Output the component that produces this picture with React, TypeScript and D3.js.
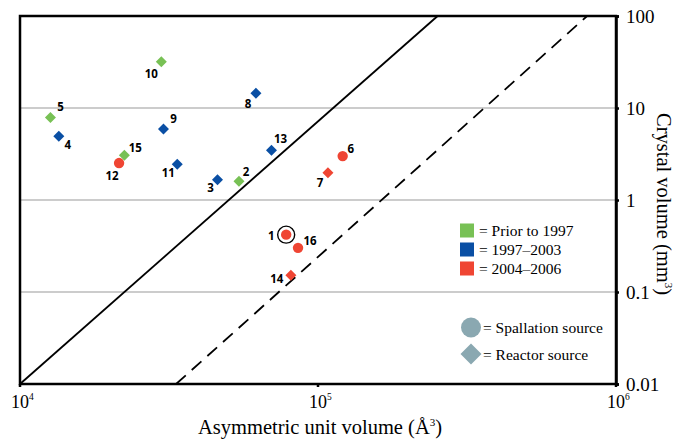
import React, { useEffect, useRef } from 'react';
import * as d3 from 'd3';

// crystal data
const ids = [1, 2, 3, 4, 5, 6, 7, 8, 9, 10, 11, 12, 13, 14, 15, 16];
const asymVolume = [78200, 54300, 46000, 13500, 12650, 121000, 108000, 61900, 30300, 29800, 33700, 21500, 69800, 81100, 22400, 85700];
const crystalVolume = [0.42, 1.6, 1.66, 4.93, 7.9, 3.0, 1.98, 14.5, 5.9, 31.8, 2.44, 2.52, 3.47, 0.152, 3.06, 0.302];
const period = ['2004', 'prior', '1997', '1997', 'prior', '2004', '2004', '1997', '1997', 'prior', '1997', '2004', '1997', '2004', 'prior', '2004'];
const source = ['spall', 'reactor', 'reactor', 'reactor', 'reactor', 'spall', 'reactor', 'reactor', 'reactor', 'reactor', 'reactor', 'spall', 'reactor', 'reactor', 'reactor', 'spall'];

const periodKeys = ['prior', '1997', '2004'];
const periodLabels = ['= Prior to 1997', '= 1997\u20132003', '= 2004\u20132006'];
const periodColors = ['#78c155', '#0a4fa4', '#ef4533'];

const yTicks = [0.01, 0.1, 1, 10, 100];
const yTickLabels = ['0.01', '0.1', '1', '10', '100'];
const xTicks = [1e4, 1e5, 1e6];
const xTickExp = ['4', '5', '6'];

// reference lines (endpoints in data units)
const solidLine: [number, number][] = [[1e4, 0.01], [2.52e5, 100]];
const dashedLine: [number, number][] = [[3.34e4, 0.01], [8.0e5, 100]];

// label placement relative to the marker
const labelOffset: Record<number, [number, number]> = {
  1: [-15, 1], 2: [7, -9], 3: [-7, 8], 4: [9, 9], 5: [10, -10], 6: [8, -7],
  7: [-8, 10], 8: [-8, 11], 9: [10, -10], 10: [-10, 12], 11: [-9, 9], 12: [-7, 13],
  13: [9, -11], 14: [-14, 4], 15: [11, -7], 16: [12, -7],
};

export default function App() {
  const ref = useRef<SVGSVGElement | null>(null);
  const width = 680;
  const height = 439;
  const margin = { top: 16, right: 64, bottom: 55, left: 20 };

  useEffect(() => {
    const svg = d3.select(ref.current);
    svg.selectAll('*').remove();

    const x = d3.scaleLog().domain([1e4, 1e6]).range([margin.left, width - margin.right]);
    const y = d3.scaleLog().domain([0.01, 100]).range([height - margin.bottom, margin.top]);
    const color = d3.scaleOrdinal<string, string>().domain(periodKeys).range(periodColors);
    const serif = "'Liberation Serif', 'Times New Roman', serif";
    const sans = "'Open Sans', 'DejaVu Sans', sans-serif";

    svg.append('rect').attr('width', width).attr('height', height).attr('fill', '#fff');

    // gridlines
    svg.append('g')
      .selectAll('line')
      .data([0.1, 1, 10])
      .join('line')
      .attr('x1', x(1e4)).attr('x2', x(1e6))
      .attr('y1', d => y(d)).attr('y2', d => y(d))
      .attr('stroke', '#9a9a9a').attr('stroke-width', 1.2);

    // reference lines
    const line = d3.line<[number, number]>().x(d => x(d[0])).y(d => y(d[1]));
    svg.append('path').attr('d', line(solidLine)).attr('stroke', '#000').attr('stroke-width', 1.8).attr('fill', 'none');
    svg.append('path').attr('d', line(dashedLine)).attr('stroke', '#000').attr('stroke-width', 1.8)
      .attr('fill', 'none').attr('stroke-dasharray', '13,8');

    // frame
    svg.append('rect')
      .attr('x', x(1e4)).attr('y', y(100))
      .attr('width', x(1e6) - x(1e4)).attr('height', y(0.01) - y(100))
      .attr('fill', 'none').attr('stroke', '#000').attr('stroke-width', 2.5);

    // y axis on the right
    const yAxis = d3.axisRight(y).tickValues(yTicks).tickFormat((d, i) => yTickLabels[i]).tickSize(3).tickPadding(7);
    const yg = svg.append('g').attr('transform', `translate(${x(1e6)},0)`).call(yAxis);
    yg.select('.domain').attr('stroke-width', 2.5);
    yg.selectAll('.tick line').attr('stroke-width', 2.5);
    yg.selectAll('.tick text').style('font-family', serif).style('font-size', '19px').attr('fill', '#000');

    // x axis
    const xg = svg.append('g').attr('transform', `translate(0,${y(0.01)})`);
    xg.selectAll('line')
      .data(xTicks)
      .join('line')
      .attr('x1', d => x(d)).attr('x2', d => x(d))
      .attr('y1', 0).attr('y2', 3)
      .attr('stroke', '#000').attr('stroke-width', 2.5);
    xg.selectAll('text.base')
      .data(xTicks)
      .join('text')
      .attr('class', 'base')
      .attr('x', d => x(d))
      .attr('y', 24)
      .attr('text-anchor', 'middle')
      .style('font-family', serif)
      .style('font-size', '18px')
      .text('10');
    xg.selectAll('text.exp')
      .data(xTicks)
      .join('text')
      .attr('class', 'exp')
      .attr('x', d => x(d) + 9)
      .attr('y', 15.5)
      .style('font-family', serif)
      .style('font-size', '9.5px')
      .text((d, i) => xTickExp[i]);

    // axis titles
    const xTitle = svg.append('text')
      .attr('x', (x(1e4) + x(1e6)) / 2 + 2).attr('y', 434)
      .attr('text-anchor', 'middle').style('font-family', serif).style('font-size', '20.5px');
    xTitle.append('tspan').text('Asymmetric unit volume (\u00c5');
    xTitle.append('tspan').attr('dy', -8).style('font-size', '11px').text('3');
    xTitle.append('tspan').attr('dy', 8).text(')');

    const yTitle = svg.append('text')
      .attr('transform', `translate(657,${(y(100) + y(0.01)) / 2 + 4}) rotate(90)`)
      .attr('text-anchor', 'middle').style('font-family', serif).style('font-size', '20.5px');
    yTitle.append('tspan').text('Crystal volume (mm');
    yTitle.append('tspan').attr('dy', -8).style('font-size', '11px').text('3');
    yTitle.append('tspan').attr('dy', 8).text(')');

    // points
    const diamond = (cx: number, cy: number, r: number) =>
      `M${cx},${cy - r}L${cx + r},${cy}L${cx},${cy + r}L${cx - r},${cy}Z`;
    const pts = svg.append('g');
    ids.forEach((id, i) => {
      const cx = x(asymVolume[i]);
      const cy = y(crystalVolume[i]);
      const c = color(period[i]);
      if (source[i] === 'spall') {
        pts.append('circle').attr('cx', cx).attr('cy', cy).attr('r', 5.2).attr('fill', c);
      } else {
        pts.append('path').attr('d', diamond(cx, cy, 5.5)).attr('fill', c);
      }
      if (id === 1) {
        pts.append('circle').attr('cx', cx).attr('cy', cy).attr('r', 8.5)
          .attr('fill', 'none').attr('stroke', '#000').attr('stroke-width', 1.4);
      }
      const [dx, dy] = labelOffset[id];
      pts.append('text')
        .attr('x', cx + dx).attr('y', cy + dy + 4)
        .attr('text-anchor', 'middle')
        .style('font-family', sans).style('font-weight', '700').style('font-size', '11.5px')
        .text(id);
    });

    // colour legend
    const leg = svg.append('g');
    periodKeys.forEach((k, i) => {
      const cy = 230.5 + i * 19;
      leg.append('rect').attr('x', 460).attr('y', cy - 7).attr('width', 14).attr('height', 14).attr('fill', periodColors[i]);
      leg.append('text').attr('x', 479).attr('y', cy + 5)
        .style('font-family', serif).style('font-size', '15.5px').text(periodLabels[i]);
    });

    // source legend
    const shapeFill = '#8aa8b1';
    leg.append('circle').attr('cx', 471).attr('cy', 327.5).attr('r', 10).attr('fill', shapeFill);
    leg.append('text').attr('x', 483).attr('y', 333).style('font-family', serif).style('font-size', '15.5px').text('= Spallation source');
    leg.append('path').attr('d', diamond(471, 354, 10.5)).attr('fill', shapeFill);
    leg.append('text').attr('x', 483).attr('y', 359.5).style('font-family', serif).style('font-size', '15.5px').text('= Reactor source');
  });

  return (
    <svg ref={ref} width={width} height={height} style={{ display: 'block', position: 'absolute', left: 0, top: 0 }} />
  );
}
